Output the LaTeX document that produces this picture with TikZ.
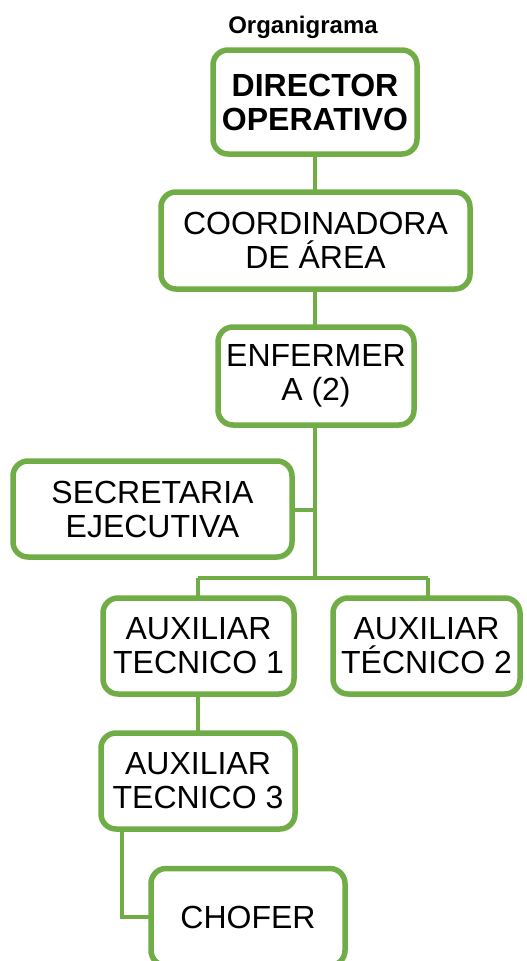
\documentclass[tikz,border=0pt]{standalone}
\usepackage{fontspec}
\setmainfont{Liberation Sans}
\definecolor{boxgreen}{RGB}{112,173,71}
\begin{document}
\begin{tikzpicture}[x=1pt,y=-1pt,
  orgbox/.style={draw=boxgreen, line width=5.5pt, rounded corners=15pt, fill=white,
    align=center, inner sep=0pt, font=\fontsize{32}{34}\selectfont},
  link/.style={draw=boxgreen, line width=3.5pt}]
\useasboundingbox (0,0) rectangle (527,961);
\node[font=\bfseries\fontsize{24}{26}\selectfont, anchor=base] (title) at (303,33) {Organigrama};
% connectors first (behind boxes)
\coordinate (dirc) at (315,102);
\coordinate (coordc) at (315,240);
\coordinate (enfc) at (315,376);
\coordinate (junsec) at (315,510);
\coordinate (junbus) at (315,578);
\coordinate (busl) at (198,578);
\coordinate (busr) at (428,578);
\coordinate (chbend) at (122,917);
\coordinate (a3low) at (122,832);
\path[link] (dirc) -- (enfc) -- (junbus);
\path[link] (152,510) -- (junsec);
\path[link] (busl) -- (busr);
\path[link] (busl) -- (198,646);
\path[link] (busr) -- (428,646);
\path[link] (198,646) -- (198,781);
\path[link] (a3low) -- (chbend) -- (248,917);
% boxes
\node[orgbox, minimum width=204pt, minimum height=104pt, font=\bfseries\fontsize{32}{34}\selectfont] (dir) at (315,102) {DIRECTOR\\OPERATIVO};
\node[orgbox, minimum width=309pt, minimum height=97pt] (coord) at (315.5,240.5) {COORDINADORA\\DE ÁREA};
\node[orgbox, minimum width=196pt, minimum height=98pt] (enf) at (316,376) {ENFERMER\\A (2)};
\node[orgbox, minimum width=279pt, minimum height=96pt] (sec) at (152.5,509) {SECRETARIA\\EJECUTIVA};
\node[orgbox, minimum width=191pt, minimum height=96pt] (aux1) at (198.5,646) {AUXILIAR\\TECNICO 1};
\node[orgbox, minimum width=187pt, minimum height=96pt] (aux2) at (426.5,646) {AUXILIAR\\TÉCNICO 2};
\node[orgbox, minimum width=194pt, minimum height=96pt] (aux3) at (198,781) {AUXILIAR\\TECNICO 3};
\node[orgbox, minimum width=194pt, minimum height=97pt] (chofer) at (248,917) {CHOFER};
\end{tikzpicture}
\end{document}
